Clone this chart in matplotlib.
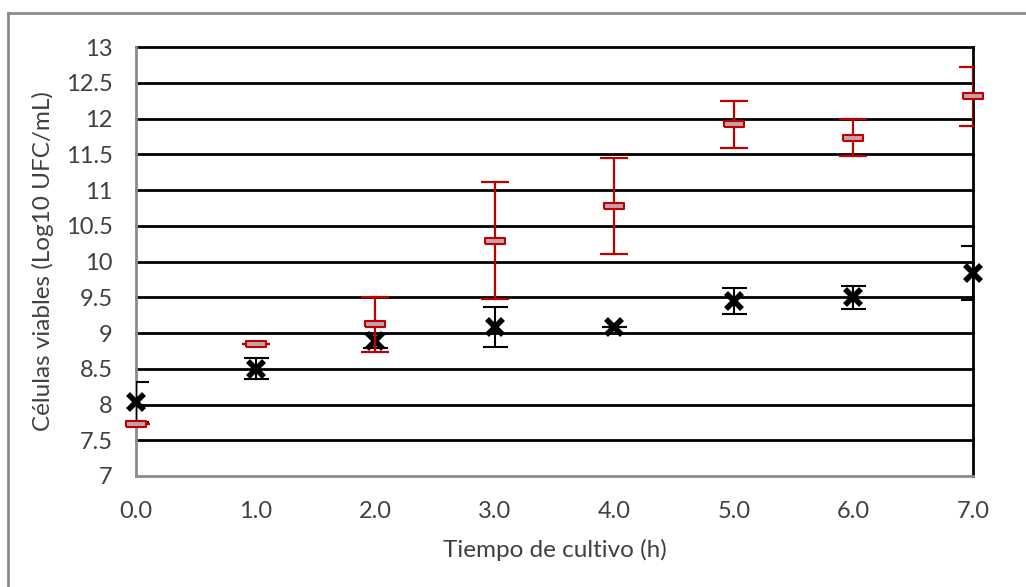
import matplotlib.pyplot as plt
from matplotlib.lines import Line2D

horas = [0, 1, 2, 3, 4, 5, 6, 7]
tick_labels = ['0.0', '1.0', '2.0', '3.0', '4.0', '5.0', '6.0', '7.0']

# black series (X markers)
negro = [8.03, 8.50, 8.89, 9.08, 9.09, 9.45, 9.50, 9.84]
negro_err = [0.28, 0.15, 0.10, 0.28, 0.0, 0.18, 0.16, 0.38]

# red series (dash markers)
rojo = [7.73, 8.84, 9.12, 10.29, 10.78, 11.92, 11.73, 12.31]
rojo_err = [0.0, 0.0, 0.38, 0.82, 0.67, 0.33, 0.26, 0.41]

plt.rcParams['font.family'] = ['Lato', 'DejaVu Sans']

fig = plt.figure(figsize=(10.26, 5.87), dpi=100)
ax = fig.add_axes([0.1326, 0.1891, 0.9483 - 0.1326, 0.9199 - 0.1891])

for y in [7.5, 8, 8.5, 9, 9.5, 10, 10.5, 11, 11.5, 12, 12.5, 13]:
    ax.axhline(y, color='black', lw=2, zorder=1, clip_on=False)

ax.errorbar(horas, negro, yerr=negro_err, fmt='none', ecolor='black',
            elinewidth=1.5, capsize=9, capthick=1.5, zorder=3)
ax.plot(horas, negro, ls='none', marker='x', ms=11, mew=4, color='black',
        zorder=4, clip_on=False)

rect = [(-1, -0.25), (1, -0.25), (1, 0.25), (-1, 0.25), (-1, -0.25)]
ax.errorbar(horas, rojo, yerr=rojo_err, fmt='none', ecolor='#c00000',
            elinewidth=1.6, capsize=10, capthick=1.6, zorder=5)
ax.plot(horas, rojo, ls='none', marker=rect, ms=15, mew=1.5,
        markeredgecolor='#c00000', markerfacecolor='#c4a2ac', zorder=6,
        clip_on=False)

ax.set_xlim(0, 7)
ax.set_ylim(7, 13)
ax.set_xticks(horas)
ax.set_xticklabels(tick_labels)
ax.set_yticks([7, 7.5, 8, 8.5, 9, 9.5, 10, 10.5, 11, 11.5, 12, 12.5, 13])
ax.set_yticklabels(['7', '7.5', '8', '8.5', '9', '9.5', '10', '10.5', '11',
                    '11.5', '12', '12.5', '13'])
ax.tick_params(axis='both', labelsize=17, colors='#404040', length=0)
ax.tick_params(axis='y', pad=17)
ax.tick_params(axis='x', pad=18)

ax.spines['left'].set_color('#8c8c8c')
ax.spines['bottom'].set_color('#8c8c8c')
ax.spines['left'].set_linewidth(2)
ax.spines['bottom'].set_linewidth(2)
ax.spines['right'].set_color('black')
ax.spines['right'].set_linewidth(2)
ax.spines['top'].set_visible(False)

ax.set_xlabel('Tiempo de cultivo (h)', fontsize=17.5, color='#404040', labelpad=12)
ax.set_ylabel('Células viables (Log10 UFC/mL)', fontsize=17.5, color='#404040',
              labelpad=8)

# outer chart border (only left and top visible in the crop)
fig.add_artist(Line2D([8 / 1026, 8 / 1026], [0, 1 - 13 / 587],
                      transform=fig.transFigure, color='#8c8c8c', lw=2))
fig.add_artist(Line2D([8 / 1026, 1], [1 - 13 / 587, 1 - 13 / 587],
                      transform=fig.transFigure, color='#8c8c8c', lw=2))

fig.savefig('out.png', dpi=100)
